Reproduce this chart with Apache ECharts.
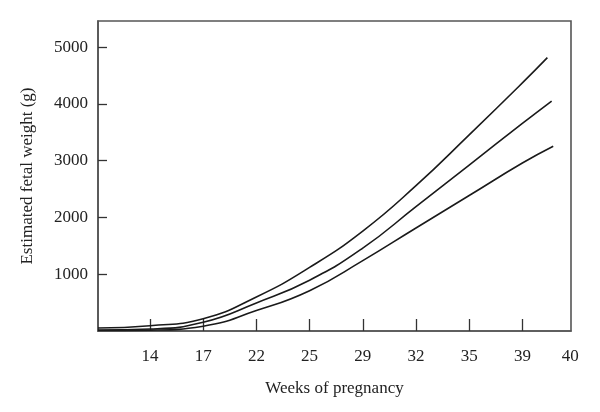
<!DOCTYPE html>
<html><head><meta charset="utf-8">
<script src="https://cdn.jsdelivr.net/npm/echarts@6/dist/echarts.min.js"></script>
<style>html,body{margin:0;padding:0;background:#fff}#c{width:600px;height:412px}</style>
</head><body><div id="c"></div>
<script>
// x axis: evenly spaced positions (tick index units), labelled with weeks
const tickLabels = ['14', '17', '22', '25', '29', '32', '35', '39', '40'];
const tickPositions = [0, 1, 2, 3, 4, 5, 6, 7, 7.9];
const yTicks = [1000, 2000, 3000, 4000, 5000];

// sampled positions along the x axis
const xPositions = [-0.977, 0, 1, 2, 3, 4, 5, 6, 7];
const upperCurve  = [53, 93, 215, 600, 1120, 1760, 2560, 3455, 4370];
const middleCurve = [18, 35, 154, 494, 895, 1460, 2190, 2922, 3656];
const lowerCurve  = [8, 15, 85, 360, 710, 1240, 1815, 2386, 2958];
// end points of each curve
const endPositions = [7.47, 7.55, 7.58];
const endValues = [4814, 4050, 3254];

const curves = [upperCurve, middleCurve, lowerCurve];
const serif = '"Liberation Serif", "DejaVu Serif", serif';

const series = curves.map((vals, i) => {
  const pts = xPositions.map((x, j) => [x, vals[j]]);
  pts.push([endPositions[i], endValues[i]]);
  return {
    type: 'line', data: pts, smooth: 0.5,
    showSymbol: false, symbol: 'none',
    lineStyle: {color: '#1a1a1a', width: 1.6}
  };
});

const chart = echarts.init(document.getElementById('c'), null, {renderer: 'canvas'});
chart.setOption({
  animation: false,
  backgroundColor: '#ffffff',
  grid: {left: 98, right: 29, top: 21, bottom: 81, show: true, borderColor: '#555', borderWidth: 1.6, backgroundColor: 'transparent'},
  xAxis: {
    type: 'value', min: -0.977, max: 7.914,
    name: 'Weeks of pregnancy', nameLocation: 'middle', nameGap: 49,
    nameTextStyle: {fontFamily: serif, fontSize: 17, color: '#222'},
    axisLine: {show: true, onZero: false, lineStyle: {color: '#555', width: 1.6}},
    axisTick: {show: true, inside: true, length: 12, customValues: tickPositions.slice(0, 8), lineStyle: {color: '#333', width: 1.3}},
    axisLabel: {
      customValues: tickPositions, margin: 17, showMaxLabel: true,
      fontFamily: serif, fontSize: 17, color: '#222',
      formatter: v => { const k = tickPositions.indexOf(v); return k >= 0 ? tickLabels[k] : ''; }
    },
    splitLine: {show: false}
  },
  yAxis: {
    type: 'value', min: 0, max: 5460,
    name: 'Estimated fetal weight (g)', nameLocation: 'middle', nameGap: 62, nameRotate: 90,
    nameTextStyle: {fontFamily: serif, fontSize: 17, color: '#222'},
    axisLine: {show: true, onZero: false, lineStyle: {color: '#555', width: 1.6}},
    axisTick: {show: true, inside: true, length: 9, customValues: yTicks, lineStyle: {color: '#333', width: 1.3}},
    axisLabel: {customValues: yTicks, margin: 10, fontFamily: serif, fontSize: 17, color: '#222', formatter: v => String(v)},
    splitLine: {show: false}
  },
  series: series
});
</script>
</body></html>
